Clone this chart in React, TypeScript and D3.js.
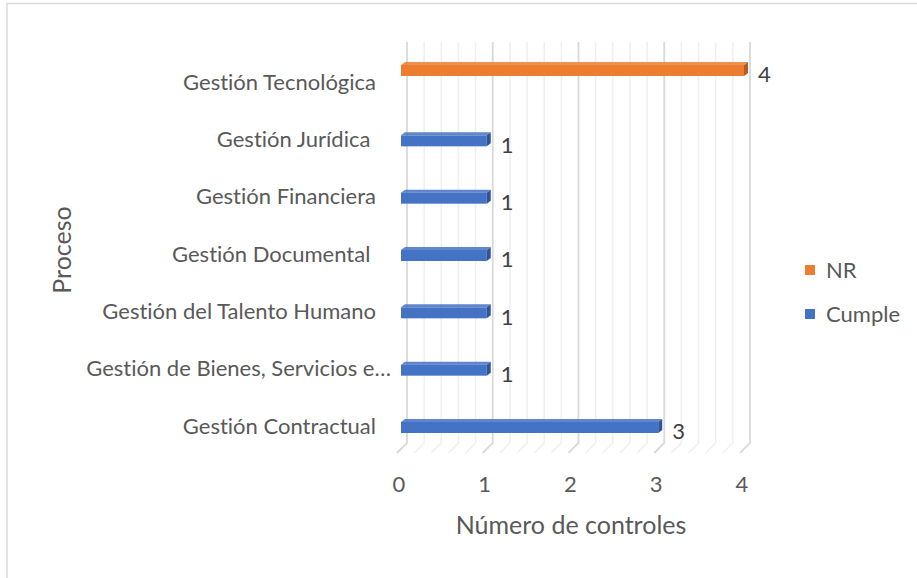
import React from 'react';
import * as d3 from 'd3';

// categories, top to bottom as drawn
const categories = [
  'Gestión Tecnológica',
  'Gestión Jurídica ',
  'Gestión Financiera',
  'Gestión Documental ',
  'Gestión del Talento Humano',
  'Gestión de Bienes, Servicios e…',
  'Gestión Contractual',
];
const cumple = [0, 1, 1, 1, 1, 1, 3];
const nr = [4, 0, 0, 0, 0, 0, 0];
const seriesNames = ['NR', 'Cumple'];
const seriesColors = ['#ED7D31', '#4472C4'];
const seriesDark = ['#B35C22', '#2F5597'];
const ticks = [0, 1, 2, 3, 4];

const W = 917;
const H = 578;
const FONT = 'Lato, "Open Sans", sans-serif';

const App = () => {
  // front plane of the 3D box
  const x = d3.scaleLinear().domain([0, 4]).range([397, 740]);
  const y = d3.scalePoint<string>().domain(categories).range([82, 426]);
  const ys = d3.scalePoint<string>().domain(seriesNames).range([-13, 0]);
  const depth = { dx: 10, dy: -10 };
  const wallTop = 42;
  const wallBottom = 443;

  const minor = d3.range(0, 4.0001, 0.2);

  const bars: { cat: string; s: number; v: number }[] = [];
  categories.forEach((c, i) => {
    if (nr[i] > 0) bars.push({ cat: c, s: 0, v: nr[i] });
    if (cumple[i] > 0) bars.push({ cat: c, s: 1, v: cumple[i] });
  });

  const bh = 11; // front face height
  const bdx = 4;
  const bdy = 3;

  return (
    <svg
      width={W}
      height={H}
      style={{
        position: 'fixed',
        left: 0,
        top: 0,
        background: '#fff',
        fontVariantLigatures: 'none',
        fontFeatureSettings: '"liga" 0, "clig" 0, "dlig" 0',
      }}
      fontFamily={FONT}
    >
      <rect x={7} y={3.5} width={W} height={H} fill="#fff" stroke="#d9d9d9" strokeWidth={1.5} />

      {/* gridlines: back wall + floor */}
      {minor.map((v, i) => {
        const major = Math.abs(v - Math.round(v)) < 1e-6;
        const bx = x(v) + depth.dx;
        return (
          <g key={i} stroke={major ? '#d9d9d9' : '#efefef'} strokeWidth={major ? 1.8 : 1.5} fill="none">
            <path d={`M${bx},${wallTop} L${bx},${wallBottom} L${x(v)},${wallBottom - depth.dy}`} />
          </g>
        );
      })}

      {/* bars */}
      {bars.map((b, i) => {
        const cy = (y(b.cat) as number) + ys(seriesNames[b.s])! + 1.5;
        const x0 = x(0) + 4;
        const x1 = x(b.v) + 4;
        const t = cy - bh / 2;
        return (
          <g key={i}>
            <path
              d={`M${x0},${t} L${x1},${t} L${x1 + bdx},${t - bdy} L${x0 + bdx},${t - bdy} Z`}
              fill={seriesColors[b.s]}
              opacity={0.85}
            />
            <rect x={x0} y={t} width={x1 - x0} height={bh} fill={seriesColors[b.s]} />
            <path
              d={`M${x1},${t} L${x1 + bdx},${t - bdy} L${x1 + bdx},${t + bh - bdy} L${x1},${t + bh} Z`}
              fill={seriesDark[b.s]}
            />
            <text x={x1 + bdx + 10} y={cy + 4} dy="0.35em" fontSize={22} fill="#404040">
              {b.v}
            </text>
          </g>
        );
      })}

      {/* category labels */}
      {categories.map((c) => (
        <text
          key={c}
          x={c.endsWith('…') ? 391 : 376}
          y={y(c)}
          dy="0.35em"
          textAnchor="end"
          fontSize={22}
          fill="#595959"
          style={{ whiteSpace: 'pre' }}
        >
          {c}
        </text>
      ))}

      {/* x tick labels */}
      {ticks.map((t) => (
        <text key={t} x={x(t) + 2} y={484} dy="0.35em" textAnchor="middle" fontSize={22} fill="#595959">
          {t}
        </text>
      ))}

      <text x={571} y={525} dy="0.35em" textAnchor="middle" fontSize={25} fill="#595959">
        Número de controles
      </text>
      <text
        transform={`translate(62,250) rotate(-90)`}
        dy="0.35em"
        textAnchor="middle"
        fontSize={25}
        fill="#595959"
      >
        Proceso
      </text>

      {/* legend */}
      {seriesNames.map((s, i) => (
        <g key={s} transform={`translate(805,${270 + i * 44})`}>
          <rect x={0} y={-5} width={10} height={10} fill={seriesColors[i]} />
          <text x={21} y={0} dy="0.35em" fontSize={22} fill="#595959">
            {s}
          </text>
        </g>
      ))}
    </svg>
  );
};

export default App;
